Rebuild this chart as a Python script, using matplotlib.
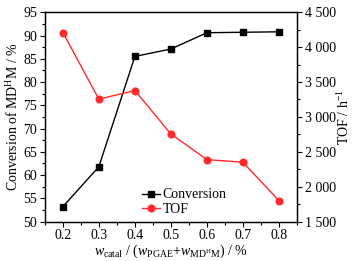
import matplotlib
matplotlib.use("Agg")
import matplotlib.pyplot as plt
from matplotlib.ticker import MultipleLocator

plt.rcParams['font.family'] = ['Liberation Serif', 'DejaVu Serif']
plt.rcParams['mathtext.fontset'] = 'custom'
plt.rcParams['mathtext.rm'] = 'Liberation Serif'
plt.rcParams['mathtext.it'] = 'Liberation Serif:italic'

x = [0.2, 0.3, 0.4, 0.5, 0.6, 0.7, 0.8]
conversion = [53.2, 61.8, 85.5, 87.1, 90.6, 90.7, 90.8]
tof = [4210, 3255, 3378, 2756, 2388, 2351, 1801]
x_ticks = [0.2, 0.3, 0.4, 0.5, 0.6, 0.7, 0.8]
left_ticks = [50, 55, 60, 65, 70, 75, 80, 85, 90, 95]
right_ticks = [1500, 2000, 2500, 3000, 3500, 4000, 4500]
right_labels = ['1 500', '2 000', '2 500', '3 000', '3 500', '4 000', '4 500']

fig = plt.figure(figsize=(3.56, 2.61), dpi=100)
ax = fig.add_axes([0.126, 0.151, 0.708, 0.802])
ax2 = ax.twinx()

l1, = ax.plot(x, conversion, color='black', marker='s', markersize=4.2, lw=1.0, label='Conversion')
l2, = ax2.plot(x, tof, color='#ff2a2a', marker='o', markersize=4.8, lw=1.0, label='TOF')

ax.set_xlim(0.15, 0.85)
ax.set_ylim(50, 95)
ax2.set_ylim(1500, 4500)
ax.set_xticks(x_ticks)
ax.set_xticklabels([f'{v:.1f}' for v in x_ticks])
ax.xaxis.set_minor_locator(MultipleLocator(0.05))
ax.set_yticks(left_ticks)
ax.yaxis.set_minor_locator(MultipleLocator(2.5))
ax2.set_yticks(right_ticks)
ax2.set_yticklabels(right_labels)
ax2.yaxis.set_minor_locator(MultipleLocator(250))

for a in (ax, ax2):
    a.tick_params(direction='out', labelsize=10, length=3.5, width=0.8, pad=2)
    a.tick_params(which='minor', direction='out', length=2, width=0.8)
    for s in a.spines.values():
        s.set_linewidth(0.9)

ax.set_ylabel(r'Conversion of MD$^{\rm H}$M / %', fontsize=10, labelpad=2)
ax2.set_ylabel(r'TOF / h$^{-1}$', fontsize=10, labelpad=0)
ax.set_xlabel(r'$w_{\rm catal}$ / ($w_{\rm PGAE}$+$w_{\rm MD^HM}$) / %', fontsize=10, labelpad=0)

fig.legend(handles=[l1, l2], loc='upper left', bbox_to_anchor=(0.375, 0.31),
           frameon=False, fontsize=10, handlelength=1.3, handletextpad=0.2,
           labelspacing=0.1, borderpad=0.1)

fig.savefig('out.png', dpi=100)
